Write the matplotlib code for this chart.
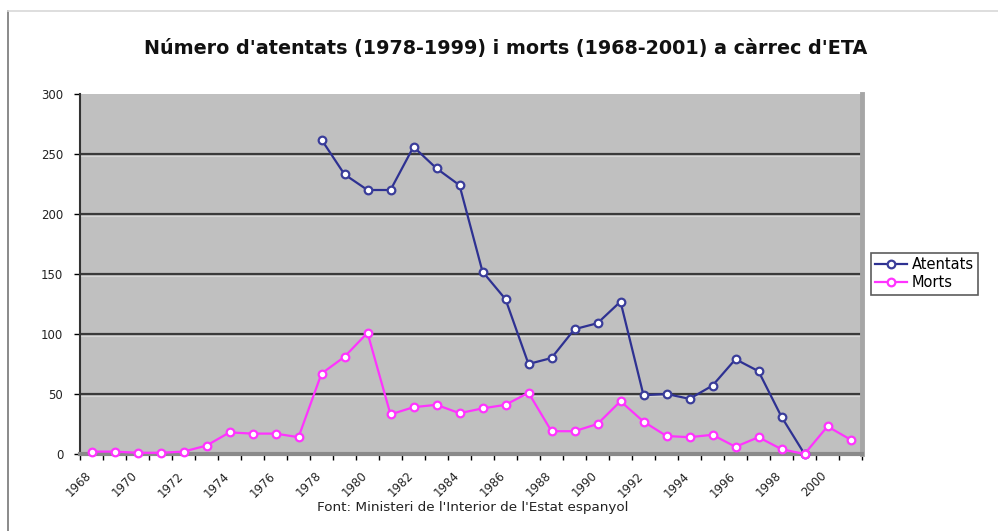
import matplotlib
matplotlib.use("Agg")
import matplotlib.pyplot as plt
from matplotlib.lines import Line2D
from matplotlib.transforms import ScaledTranslation
import numpy as np

plt.rcParams['font.family'] = ['DejaVu Sans']

years = list(range(1968, 2002))
morts = [2, 2, 1, 1, 2, 7, 18, 17, 17, 14,
         67, 81, 101, 33, 39, 41, 34, 38, 41, 51,
         19, 19, 25, 44, 27, 15, 14, 16, 6, 14,
         4, 0, 23, 12]
atentats_years = list(range(1978, 2000))
atentats = [262, 233, 220, 220, 256, 238, 224, 152, 129, 75,
            80, 104, 109, 127, 49, 50, 46, 57, 79, 69, 31, 0]
yticks = [0, 50, 100, 150, 200, 250, 300]
xlabels_years = list(range(1968, 2001, 2))

title = "Número d'atentats (1978-1999) i morts (1968-2001) a càrrec d'ETA"
source = "Font: Ministeri de l'Interior de l'Estat espanyol"

W, H = 998, 531
fig = plt.figure(figsize=(W / 100, H / 100), dpi=100)
fig.patch.set_facecolor('white')

ax = fig.add_axes([80 / W, 1 - 454 / H, (862 - 80) / W, 360 / H])
ax.set_facecolor('#C0C0C0')

xpos = {y: i for i, y in enumerate(years)}
xm = [xpos[y] for y in years]
xa = [xpos[y] for y in atentats_years]

# gridlines
for v in yticks[1:-1]:
    ax.axhline(v, color='#3a3a3a', lw=1.6, zorder=1)
    ax.axhline(v - 1.6, color='#d8d8d8', lw=0.8, zorder=1)

ax.plot(xa, atentats, color='#2E3192', lw=1.6, marker='o', ms=5.5,
        mfc='white', mec='#3A3D9A', mew=1.6, label='Atentats', zorder=3,
        clip_on=False)
ax.plot(xm, morts, color='#FF33FF', lw=1.6, marker='o', ms=5.5,
        mfc='white', mec='#FF33FF', mew=1.6, label='Morts', zorder=3,
        clip_on=False)

ax.set_xlim(-0.5, len(years) - 0.5)
ax.set_ylim(0, 300)

ax.set_yticks(yticks)
ax.set_yticklabels([str(v) for v in yticks], fontsize=8.5, color='#222222')
ax.tick_params(axis='y', length=4, width=1, direction='out', pad=8)

ax.set_xticks([xpos[y] for y in xlabels_years])
ax.set_xticklabels([str(y) for y in xlabels_years], rotation=45,
                   ha='right', va='top', fontsize=8.5, color='#222222',
                   rotation_mode='anchor')
ax.set_xticks(np.arange(-0.5, len(years), 1), minor=True)
ax.tick_params(axis='x', which='major', length=0, pad=11)
ax.tick_params(axis='x', which='minor', length=4, width=1, direction='out')
shift = ScaledTranslation(-7 / 100, 0, fig.dpi_scale_trans)
for lab in ax.get_xticklabels():
    lab.set_transform(lab.get_transform() + shift)

for s in ['top']:
    ax.spines[s].set_visible(False)
ax.spines['left'].set_color('#333333')
ax.spines['left'].set_linewidth(1.5)
ax.spines['bottom'].set_color('#8a8a8a')
ax.spines['bottom'].set_linewidth(3)
ax.spines['right'].set_color('#a6a6a6')
ax.spines['right'].set_linewidth(3.5)

fig.text(506 / W, 1 - 48 / H, title, ha='center', va='center',
         fontsize=13.8, fontweight='bold', color='#111111')
fig.text(473 / W, 1 - 508 / H, source, ha='center', va='center',
         fontsize=9.7, color='#222222')

leg = fig.legend(loc='upper left', bbox_to_anchor=(871 / W, 1 - 253 / H),
                 frameon=True, fancybox=False, fontsize=10.5,
                 handlelength=2.2, borderpad=0.3, labelspacing=0.2,
                 handletextpad=0.3, borderaxespad=0)
leg.get_frame().set_edgecolor('#333333')
leg.get_frame().set_linewidth(1.2)

# outer border lines
fig.add_artist(Line2D([8 / W, 8 / W], [0, 1 - 11 / H], transform=fig.transFigure,
                      color='#777777', lw=1.2))
fig.add_artist(Line2D([8 / W, 1], [1 - 11 / H, 1 - 11 / H], transform=fig.transFigure,
                      color='#d8d8d8', lw=1.2))

fig.savefig('out.png', dpi=100)
